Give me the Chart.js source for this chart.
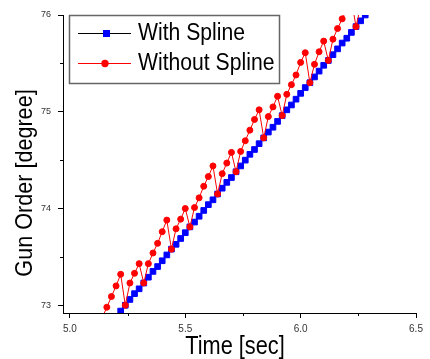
<!DOCTYPE html>
<html>
<head>
<meta charset="utf-8">
<title>Gun Order</title>
<script src="https://cdn.jsdelivr.net/npm/chart.js@4.4.0/dist/chart.umd.min.js"></script>
<style>
  html, body { margin: 0; padding: 0; background: #fff; }
  canvas { display: block; }
</style>
</head>
<body>
<canvas id="gunChart" width="430" height="359"></canvas>
<script>
// data (time in sec, angle in degree)
const splineTime = [5.22, 5.24, 5.26, 5.28, 5.30, 5.32, 5.34, 5.36, 5.38, 5.40,
  5.42, 5.44, 5.46, 5.48, 5.50, 5.52, 5.54, 5.56, 5.58, 5.60,
  5.62, 5.64, 5.66, 5.68, 5.70, 5.72, 5.74, 5.76, 5.78, 5.80,
  5.82, 5.84, 5.86, 5.88, 5.90, 5.92, 5.94, 5.96, 5.98, 6.00,
  6.02, 6.04, 6.06, 6.08, 6.10, 6.12, 6.14, 6.16, 6.18, 6.20,
  6.22, 6.24, 6.26, 6.28, 6.30];
const splineAngle = [72.94, 73.00, 73.06, 73.12, 73.17, 73.23, 73.29, 73.35, 73.40, 73.46,
  73.52, 73.58, 73.63, 73.69, 73.75, 73.81, 73.86, 73.92, 73.98, 74.04,
  74.09, 74.15, 74.21, 74.27, 74.32, 74.38, 74.44, 74.50, 74.56, 74.61,
  74.67, 74.73, 74.79, 74.84, 74.90, 74.96, 75.02, 75.07, 75.13, 75.19,
  75.25, 75.30, 75.36, 75.42, 75.48, 75.53, 75.59, 75.65, 75.71, 75.76,
  75.82, 75.88, 75.94, 76.00, 76.05];

const rawTime = [5.14, 5.16, 5.18, 5.20, 5.22, 5.24, 5.26, 5.28, 5.30, 5.32,
  5.34, 5.36, 5.38, 5.40, 5.42, 5.44, 5.46, 5.48, 5.50, 5.52,
  5.54, 5.56, 5.58, 5.60, 5.62, 5.64, 5.66, 5.68, 5.70, 5.72,
  5.74, 5.76, 5.78, 5.80, 5.82, 5.84, 5.86, 5.88, 5.90, 5.92,
  5.94, 5.96, 5.98, 6.00, 6.02, 6.04, 6.06, 6.08, 6.10, 6.12,
  6.14, 6.16, 6.18, 6.20, 6.22, 6.24, 6.26];
const rawAngle = [72.87, 72.98, 73.09, 73.20, 73.32, 73.00, 73.23, 73.33, 73.43, 73.23,
  73.43, 73.54, 73.64, 73.76, 73.88, 73.58, 73.79, 73.89, 74.00, 73.81,
  74.01, 74.11, 74.23, 74.33, 74.44, 74.15, 74.36, 74.47, 74.58, 74.38,
  74.59, 74.70, 74.81, 74.92, 75.02, 74.73, 74.95, 75.05, 75.16, 74.96,
  75.18, 75.28, 75.38, 75.51, 75.61, 75.30, 75.49, 75.62, 75.73, 75.53,
  75.75, 75.86, 75.96, 76.06, 76.16, 75.88, 76.09];

const seriesNames = ["With Spline", "Without Spline"];
const xTicks = [5.0, 5.5, 6.0, 6.5];
const xMinor = [5.25, 5.75, 6.25];
const yTicks = [73, 74, 75, 76];
const yMinor = [73.5, 74.5, 75.5];
const xTitle = "Time [sec]";
const yTitle = "Gun Order [degree]";

const FONT = '"Liberation Sans", Arial, sans-serif';

// helpers
function pairs(xs, ys){ return xs.map((x, i) => ({ x: x, y: ys[i] })); }

function squeezedText(ctx, text, x, y, size, sx, rot){
  ctx.save();
  ctx.translate(x, y);
  if(rot) ctx.rotate(rot);
  ctx.scale(sx, 1);
  ctx.font = size + "px " + FONT;
  ctx.fillText(text, 0, 0);
  ctx.restore();
}

// minor ticks, axis titles and the boxed legend
const extras = {
  id: "extras",
  afterDraw(chart){
    const ctx = chart.ctx;
    const xs = chart.scales.x, ys = chart.scales.y;
    const area = chart.chartArea;
    ctx.save();

    ctx.strokeStyle = "#000";
    ctx.lineWidth = 1;
    ctx.beginPath();
    xMinor.forEach(v => {
      const px = Math.round(xs.getPixelForValue(v)) + 0.5;
      ctx.moveTo(px, area.bottom); ctx.lineTo(px, area.bottom + 3);
    });
    yMinor.forEach(v => {
      const py = Math.round(ys.getPixelForValue(v)) + 0.5;
      ctx.moveTo(area.left - 3, py); ctx.lineTo(area.left, py);
    });
    ctx.stroke();

    // axis titles
    ctx.fillStyle = "#000";
    ctx.textAlign = "center";
    ctx.textBaseline = "alphabetic";
    squeezedText(ctx, xTitle, 235, 354, 25, 0.87, 0);
    squeezedText(ctx, yTitle, 32, 183, 24, 0.9, -Math.PI / 2);

    // legend box
    ctx.fillStyle = "#fff";
    ctx.fillRect(69, 15, 210, 68);
    ctx.strokeStyle = "#666";
    ctx.lineWidth = 1.5;
    ctx.strokeRect(69.5, 15.5, 210, 68);

    // legend samples
    ctx.lineWidth = 1;
    ctx.strokeStyle = "#000";
    ctx.beginPath(); ctx.moveTo(78, 33.5); ctx.lineTo(131, 33.5); ctx.stroke();
    ctx.fillStyle = "#0000ff";
    ctx.fillRect(103, 30, 7, 7);

    ctx.strokeStyle = "#ff0000";
    ctx.beginPath(); ctx.moveTo(78, 63.5); ctx.lineTo(131, 63.5); ctx.stroke();
    ctx.fillStyle = "#ff0000";
    ctx.beginPath(); ctx.arc(105, 63.5, 3.7, 0, Math.PI * 2); ctx.fill();

    ctx.fillStyle = "#000";
    ctx.textAlign = "left";
    squeezedText(ctx, seriesNames[0], 138, 40, 23, 0.92, 0);
    squeezedText(ctx, seriesNames[1], 138, 70, 23, 0.92, 0);

    ctx.restore();
  }
};

const chart = new Chart(document.getElementById("gunChart").getContext("2d"), {
  type: "line",
  data: {
    datasets: [{
      label: seriesNames[0],
      data: pairs(splineTime, splineAngle),
      borderColor: "#000",
      borderWidth: 1,
      pointStyle: "rect",
      pointRadius: 4,
      pointBackgroundColor: "#0000ff",
      pointBorderColor: "#0000ff",
      pointBorderWidth: 1,
      order: 1
    }, {
      label: seriesNames[1],
      data: pairs(rawTime, rawAngle),
      borderColor: "#ff0000",
      borderWidth: 1,
      pointStyle: "circle",
      pointRadius: 3,
      pointBackgroundColor: "#ff0000",
      pointBorderColor: "#ff0000",
      pointBorderWidth: 1,
      order: 0
    }]
  },
  options: {
    responsive: false,
    animation: false,
    devicePixelRatio: 1,
    layout: { padding: { top: 15, right: 14, left: 0, bottom: 0 } },
    scales: {
      x: {
        type: "linear",
        min: 4.97, max: 6.5,
        afterFit: s => { s.height = 46; },
        afterBuildTicks: s => { s.ticks = xTicks.map(v => ({ value: v })); },
        border: { color: "#000", width: 1 },
        grid: { display: true, drawOnChartArea: false, drawTicks: true, tickLength: 5, color: "#000" },
        ticks: {
          color: "#333", padding: 5, maxRotation: 0,
          font: { family: FONT, size: 10 },
          callback: v => Number(v).toFixed(1)
        }
      },
      y: {
        type: "linear",
        min: 72.92, max: 76,
        afterFit: s => { s.width = 63; },
        afterBuildTicks: s => { s.ticks = yTicks.map(v => ({ value: v })); },
        border: { color: "#000", width: 1 },
        grid: { display: true, drawOnChartArea: false, drawTicks: true, tickLength: 5, color: "#000" },
        ticks: {
          color: "#333", padding: 7,
          font: { family: FONT, size: 9 },
          callback: v => String(v)
        }
      }
    },
    plugins: {
      legend: { display: false },
      tooltip: { enabled: false }
    }
  },
  plugins: [extras]
});
</script>
</body>
</html>
